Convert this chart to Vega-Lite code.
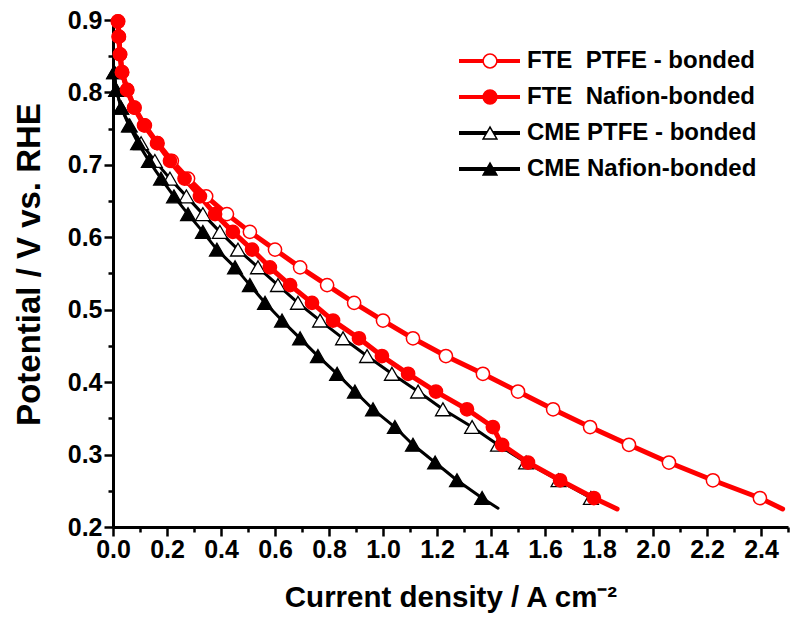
{
  "$schema": "https://vega.github.io/schema/vega-lite/v6.json",
  "width": 675,
  "height": 507,
  "autosize": "none",
  "padding": {"left": 113, "top": 20, "right": 6, "bottom": 92},
  "background": "white",
  "config": {"view": {"stroke": null}, "font": "Liberation Sans"},
  "resolve": {"axis": {"x": "independent", "y": "independent"}},
  "datasets": {
    "curves": [
      {"s": "FTE\u00a0 PTFE - bonded", "k": "a", "j": 0.018, "E": 0.898, "m": true},
      {"s": "FTE\u00a0 PTFE - bonded", "k": "a", "j": 0.021, "E": 0.877, "m": true},
      {"s": "FTE\u00a0 PTFE - bonded", "k": "a", "j": 0.026, "E": 0.8525, "m": true},
      {"s": "FTE\u00a0 PTFE - bonded", "k": "a", "j": 0.034, "E": 0.828, "m": true},
      {"s": "FTE\u00a0 PTFE - bonded", "k": "a", "j": 0.053, "E": 0.8035, "m": true},
      {"s": "FTE\u00a0 PTFE - bonded", "k": "a", "j": 0.08, "E": 0.779, "m": true},
      {"s": "FTE\u00a0 PTFE - bonded", "k": "a", "j": 0.118, "E": 0.7545, "m": true},
      {"s": "FTE\u00a0 PTFE - bonded", "k": "a", "j": 0.165, "E": 0.73, "m": true},
      {"s": "FTE\u00a0 PTFE - bonded", "k": "a", "j": 0.218, "E": 0.7055, "m": true},
      {"s": "FTE\u00a0 PTFE - bonded", "k": "a", "j": 0.278, "E": 0.681, "m": true},
      {"s": "FTE\u00a0 PTFE - bonded", "k": "a", "j": 0.345, "E": 0.6565, "m": true},
      {"s": "FTE\u00a0 PTFE - bonded", "k": "a", "j": 0.422, "E": 0.632, "m": true},
      {"s": "FTE\u00a0 PTFE - bonded", "k": "a", "j": 0.507, "E": 0.6075, "m": true},
      {"s": "FTE\u00a0 PTFE - bonded", "k": "a", "j": 0.6, "E": 0.583, "m": true},
      {"s": "FTE\u00a0 PTFE - bonded", "k": "a", "j": 0.693, "E": 0.5585, "m": true},
      {"s": "FTE\u00a0 PTFE - bonded", "k": "a", "j": 0.793, "E": 0.534, "m": true},
      {"s": "FTE\u00a0 PTFE - bonded", "k": "a", "j": 0.893, "E": 0.5095, "m": true},
      {"s": "FTE\u00a0 PTFE - bonded", "k": "a", "j": 1.0, "E": 0.485, "m": true},
      {"s": "FTE\u00a0 PTFE - bonded", "k": "a", "j": 1.111, "E": 0.4605, "m": true},
      {"s": "FTE\u00a0 PTFE - bonded", "k": "a", "j": 1.233, "E": 0.436, "m": true},
      {"s": "FTE\u00a0 PTFE - bonded", "k": "a", "j": 1.37, "E": 0.4115, "m": true},
      {"s": "FTE\u00a0 PTFE - bonded", "k": "a", "j": 1.5, "E": 0.387, "m": true},
      {"s": "FTE\u00a0 PTFE - bonded", "k": "a", "j": 1.63, "E": 0.3625, "m": true},
      {"s": "FTE\u00a0 PTFE - bonded", "k": "a", "j": 1.767, "E": 0.338, "m": true},
      {"s": "FTE\u00a0 PTFE - bonded", "k": "a", "j": 1.911, "E": 0.3135, "m": true},
      {"s": "FTE\u00a0 PTFE - bonded", "k": "a", "j": 2.059, "E": 0.289, "m": true},
      {"s": "FTE\u00a0 PTFE - bonded", "k": "a", "j": 2.222, "E": 0.2645, "m": true},
      {"s": "FTE\u00a0 PTFE - bonded", "k": "a", "j": 2.396, "E": 0.24, "m": true},
      {"s": "FTE\u00a0 PTFE - bonded", "k": "a", "j": 2.48, "E": 0.225, "m": false},

      {"s": "FTE\u00a0 Nafion-bonded", "k": "b", "j": 0.019, "E": 0.898, "m": true},
      {"s": "FTE\u00a0 Nafion-bonded", "k": "b", "j": 0.022, "E": 0.877, "m": true},
      {"s": "FTE\u00a0 Nafion-bonded", "k": "b", "j": 0.026, "E": 0.8525, "m": true},
      {"s": "FTE\u00a0 Nafion-bonded", "k": "b", "j": 0.033, "E": 0.828, "m": true},
      {"s": "FTE\u00a0 Nafion-bonded", "k": "b", "j": 0.052, "E": 0.8035, "m": true},
      {"s": "FTE\u00a0 Nafion-bonded", "k": "b", "j": 0.078, "E": 0.779, "m": true},
      {"s": "FTE\u00a0 Nafion-bonded", "k": "b", "j": 0.115, "E": 0.7545, "m": true},
      {"s": "FTE\u00a0 Nafion-bonded", "k": "b", "j": 0.163, "E": 0.73, "m": true},
      {"s": "FTE\u00a0 Nafion-bonded", "k": "b", "j": 0.211, "E": 0.7055, "m": true},
      {"s": "FTE\u00a0 Nafion-bonded", "k": "b", "j": 0.265, "E": 0.681, "m": true},
      {"s": "FTE\u00a0 Nafion-bonded", "k": "b", "j": 0.322, "E": 0.6565, "m": true},
      {"s": "FTE\u00a0 Nafion-bonded", "k": "b", "j": 0.378, "E": 0.632, "m": true},
      {"s": "FTE\u00a0 Nafion-bonded", "k": "b", "j": 0.444, "E": 0.6075, "m": true},
      {"s": "FTE\u00a0 Nafion-bonded", "k": "b", "j": 0.515, "E": 0.583, "m": true},
      {"s": "FTE\u00a0 Nafion-bonded", "k": "b", "j": 0.581, "E": 0.5585, "m": true},
      {"s": "FTE\u00a0 Nafion-bonded", "k": "b", "j": 0.656, "E": 0.534, "m": true},
      {"s": "FTE\u00a0 Nafion-bonded", "k": "b", "j": 0.737, "E": 0.5095, "m": true},
      {"s": "FTE\u00a0 Nafion-bonded", "k": "b", "j": 0.815, "E": 0.485, "m": true},
      {"s": "FTE\u00a0 Nafion-bonded", "k": "b", "j": 0.911, "E": 0.4605, "m": true},
      {"s": "FTE\u00a0 Nafion-bonded", "k": "b", "j": 0.996, "E": 0.436, "m": true},
      {"s": "FTE\u00a0 Nafion-bonded", "k": "b", "j": 1.093, "E": 0.4115, "m": true},
      {"s": "FTE\u00a0 Nafion-bonded", "k": "b", "j": 1.196, "E": 0.387, "m": true},
      {"s": "FTE\u00a0 Nafion-bonded", "k": "b", "j": 1.311, "E": 0.3625, "m": true},
      {"s": "FTE\u00a0 Nafion-bonded", "k": "b", "j": 1.407, "E": 0.338, "m": true},
      {"s": "FTE\u00a0 Nafion-bonded", "k": "b", "j": 1.441, "E": 0.3135, "m": true},
      {"s": "FTE\u00a0 Nafion-bonded", "k": "b", "j": 1.537, "E": 0.289, "m": true},
      {"s": "FTE\u00a0 Nafion-bonded", "k": "b", "j": 1.656, "E": 0.2645, "m": true},
      {"s": "FTE\u00a0 Nafion-bonded", "k": "b", "j": 1.781, "E": 0.24, "m": true},
      {"s": "FTE\u00a0 Nafion-bonded", "k": "b", "j": 1.867, "E": 0.225, "m": false},

      {"s": "CME PTFE - bonded", "k": "c", "j": 0.005, "E": 0.828, "m": true},
      {"s": "CME PTFE - bonded", "k": "c", "j": 0.012, "E": 0.8035, "m": true},
      {"s": "CME PTFE - bonded", "k": "c", "j": 0.03, "E": 0.779, "m": true},
      {"s": "CME PTFE - bonded", "k": "c", "j": 0.062, "E": 0.7545, "m": true},
      {"s": "CME PTFE - bonded", "k": "c", "j": 0.104, "E": 0.73, "m": true},
      {"s": "CME PTFE - bonded", "k": "c", "j": 0.155, "E": 0.7055, "m": true},
      {"s": "CME PTFE - bonded", "k": "c", "j": 0.211, "E": 0.681, "m": true},
      {"s": "CME PTFE - bonded", "k": "c", "j": 0.272, "E": 0.6565, "m": true},
      {"s": "CME PTFE - bonded", "k": "c", "j": 0.333, "E": 0.632, "m": true},
      {"s": "CME PTFE - bonded", "k": "c", "j": 0.396, "E": 0.6075, "m": true},
      {"s": "CME PTFE - bonded", "k": "c", "j": 0.463, "E": 0.583, "m": true},
      {"s": "CME PTFE - bonded", "k": "c", "j": 0.537, "E": 0.5585, "m": true},
      {"s": "CME PTFE - bonded", "k": "c", "j": 0.611, "E": 0.534, "m": true},
      {"s": "CME PTFE - bonded", "k": "c", "j": 0.685, "E": 0.5095, "m": true},
      {"s": "CME PTFE - bonded", "k": "c", "j": 0.767, "E": 0.485, "m": true},
      {"s": "CME PTFE - bonded", "k": "c", "j": 0.852, "E": 0.4605, "m": true},
      {"s": "CME PTFE - bonded", "k": "c", "j": 0.941, "E": 0.436, "m": true},
      {"s": "CME PTFE - bonded", "k": "c", "j": 1.033, "E": 0.4115, "m": true},
      {"s": "CME PTFE - bonded", "k": "c", "j": 1.13, "E": 0.387, "m": true},
      {"s": "CME PTFE - bonded", "k": "c", "j": 1.222, "E": 0.3625, "m": true},
      {"s": "CME PTFE - bonded", "k": "c", "j": 1.33, "E": 0.338, "m": true},
      {"s": "CME PTFE - bonded", "k": "c", "j": 1.426, "E": 0.3135, "m": true},
      {"s": "CME PTFE - bonded", "k": "c", "j": 1.53, "E": 0.289, "m": true},
      {"s": "CME PTFE - bonded", "k": "c", "j": 1.65, "E": 0.2645, "m": true},
      {"s": "CME PTFE - bonded", "k": "c", "j": 1.77, "E": 0.24, "m": true},

      {"s": "CME Nafion-bonded", "k": "d", "j": 0.004, "E": 0.828, "m": true},
      {"s": "CME Nafion-bonded", "k": "d", "j": 0.012, "E": 0.8035, "m": true},
      {"s": "CME Nafion-bonded", "k": "d", "j": 0.03, "E": 0.779, "m": true},
      {"s": "CME Nafion-bonded", "k": "d", "j": 0.059, "E": 0.7545, "m": true},
      {"s": "CME Nafion-bonded", "k": "d", "j": 0.093, "E": 0.73, "m": true},
      {"s": "CME Nafion-bonded", "k": "d", "j": 0.133, "E": 0.7055, "m": true},
      {"s": "CME Nafion-bonded", "k": "d", "j": 0.178, "E": 0.681, "m": true},
      {"s": "CME Nafion-bonded", "k": "d", "j": 0.226, "E": 0.6565, "m": true},
      {"s": "CME Nafion-bonded", "k": "d", "j": 0.278, "E": 0.632, "m": true},
      {"s": "CME Nafion-bonded", "k": "d", "j": 0.333, "E": 0.6075, "m": true},
      {"s": "CME Nafion-bonded", "k": "d", "j": 0.385, "E": 0.583, "m": true},
      {"s": "CME Nafion-bonded", "k": "d", "j": 0.452, "E": 0.5585, "m": true},
      {"s": "CME Nafion-bonded", "k": "d", "j": 0.507, "E": 0.534, "m": true},
      {"s": "CME Nafion-bonded", "k": "d", "j": 0.563, "E": 0.5095, "m": true},
      {"s": "CME Nafion-bonded", "k": "d", "j": 0.626, "E": 0.485, "m": true},
      {"s": "CME Nafion-bonded", "k": "d", "j": 0.693, "E": 0.4605, "m": true},
      {"s": "CME Nafion-bonded", "k": "d", "j": 0.759, "E": 0.436, "m": true},
      {"s": "CME Nafion-bonded", "k": "d", "j": 0.83, "E": 0.4115, "m": true},
      {"s": "CME Nafion-bonded", "k": "d", "j": 0.896, "E": 0.387, "m": true},
      {"s": "CME Nafion-bonded", "k": "d", "j": 0.963, "E": 0.3625, "m": true},
      {"s": "CME Nafion-bonded", "k": "d", "j": 1.044, "E": 0.338, "m": true},
      {"s": "CME Nafion-bonded", "k": "d", "j": 1.111, "E": 0.3135, "m": true},
      {"s": "CME Nafion-bonded", "k": "d", "j": 1.193, "E": 0.289, "m": true},
      {"s": "CME Nafion-bonded", "k": "d", "j": 1.274, "E": 0.2645, "m": true},
      {"s": "CME Nafion-bonded", "k": "d", "j": 1.367, "E": 0.24, "m": true},
      {"s": "CME Nafion-bonded", "k": "d", "j": 1.426, "E": 0.226, "m": false}
    ]
  },
  "data": {"name": "curves"},
  "layer": [
    {
      "mark": {"type": "point", "opacity": 0},
      "encoding": {
        "x": {"field": "j", "type": "quantitative", "scale": {"domain": [0, 2.5], "nice": false, "zero": false},
          "axis": {"orient": "bottom", "values": [0.1, 0.3, 0.5, 0.7, 0.9, 1.1, 1.3, 1.5, 1.7, 1.9, 2.1, 2.3, 2.5], "labels": false, "domain": false, "grid": false, "title": null, "tickSize": 5, "tickWidth": 2.5, "tickColor": "black"}},
        "y": {"field": "E", "type": "quantitative", "scale": {"domain": [0.2, 0.9], "nice": false, "zero": false},
          "axis": {"orient": "left", "values": [0.25, 0.35, 0.45, 0.55, 0.65, 0.75, 0.85], "labels": false, "domain": false, "grid": false, "title": null, "tickSize": 5, "tickWidth": 2.5, "tickColor": "black"}}
      }
    },
    {
      "transform": [{"filter": "datum.k == 'c' || datum.k == 'd'"}],
      "mark": {"type": "line", "strokeWidth": 3, "strokeJoin": "round", "strokeCap": "round"},
      "encoding": {
        "x": {"field": "j", "type": "quantitative",
          "axis": {"orient": "bottom", "values": [0, 0.2, 0.4, 0.6, 0.8, 1.0, 1.2, 1.4, 1.6, 1.8, 2.0, 2.2, 2.4], "format": ".1f", "grid": false,
            "labelFont": "Liberation Sans", "labelFontSize": 25, "labelFontWeight": "bold", "labelColor": "black", "labelPadding": 1, "labelFlush": false, "labelOverlap": false,
            "domainColor": "black", "domainWidth": 3, "tickColor": "black", "tickWidth": 2.5, "tickSize": 9,
            "title": "Current density / A cm⁻²", "titleFont": "Liberation Sans", "titleFontSize": 29.5, "titleFontWeight": "bold", "titleColor": "black", "titlePadding": 21}},
        "y": {"field": "E", "type": "quantitative",
          "axis": {"orient": "left", "values": [0.2, 0.3, 0.4, 0.5, 0.6, 0.7, 0.8, 0.9], "format": ".1f", "grid": false,
            "labelFont": "Liberation Sans", "labelFontSize": 25, "labelFontWeight": "bold", "labelColor": "black", "labelPadding": 2, "labelFlush": false, "labelOverlap": false,
            "domainColor": "black", "domainWidth": 3, "tickColor": "black", "tickWidth": 2.5, "tickSize": 9,
            "title": "Potential / V vs. RHE", "titleFont": "Liberation Sans", "titleFontSize": 33, "titleFontWeight": "bold", "titleColor": "black", "titlePadding": 21, "titleY": 244}},
        "color": {"field": "s", "type": "nominal",
          "scale": {"domain": ["FTE\u00a0 PTFE - bonded", "FTE\u00a0 Nafion-bonded", "CME PTFE - bonded", "CME Nafion-bonded"], "range": ["#ff0000", "#ff0000", "#000000", "#000000"]},
          "legend": {"orient": "none", "legendX": 344, "legendY": 31, "title": null, "padding": 0, "clipHeight": 20,
            "symbolType": "stroke", "symbolSize": 3721, "symbolStrokeWidth": 4, "symbolOpacity": 1,
            "labelFont": "Liberation Sans", "labelFontSize": 24, "labelFontWeight": "bold", "labelColor": "black", "labelOffset": 5, "rowPadding": 12, "labelLimit": 400}}
      }
    },
    {
      "transform": [{"filter": "(datum.k == 'c' || datum.k == 'd') && datum.m"}],
      "mark": {"type": "point", "opacity": 1, "size": 220, "strokeWidth": 1.3},
      "encoding": {
        "x": {"field": "j", "type": "quantitative", "axis": null},
        "y": {"field": "E", "type": "quantitative", "axis": null},
        "shape": {"field": "k", "type": "nominal", "scale": {"domain": ["a", "b", "c", "d"], "range": ["circle", "circle", "triangle-up", "triangle-up"]},
          "legend": {"orient": "none", "legendX": 365, "legendY": 31, "title": null, "padding": 0, "clipHeight": 20, "symbolSize": 190, "symbolStrokeWidth": 1.5, "symbolOpacity": 1,
            "labelFont": "Liberation Sans", "labelFontSize": 24, "labelFontWeight": "bold", "labelOpacity": 0, "rowPadding": 12}},
        "fill": {"field": "k", "type": "nominal", "scale": {"domain": ["a", "b", "c", "d"], "range": ["#ffffff", "#ff0000", "#ffffff", "#000000"]},
          "legend": {"orient": "none", "legendX": 365, "legendY": 31, "title": null, "padding": 0, "clipHeight": 20, "symbolSize": 190, "symbolStrokeWidth": 1.5, "symbolOpacity": 1,
            "labelFont": "Liberation Sans", "labelFontSize": 24, "labelFontWeight": "bold", "labelOpacity": 0, "rowPadding": 12}},
        "stroke": {"field": "k", "type": "nominal", "scale": {"domain": ["a", "b", "c", "d"], "range": ["#ff0000", "#ff0000", "#000000", "#000000"]},
          "legend": {"orient": "none", "legendX": 365, "legendY": 31, "title": null, "padding": 0, "clipHeight": 20, "symbolSize": 190, "symbolStrokeWidth": 1.5, "symbolOpacity": 1,
            "labelFont": "Liberation Sans", "labelFontSize": 24, "labelFontWeight": "bold", "labelOpacity": 0, "rowPadding": 12}}
      }
    },
    {
      "transform": [{"filter": "datum.k == 'a' || datum.k == 'b'"}],
      "mark": {"type": "line", "strokeWidth": 5, "strokeJoin": "round", "strokeCap": "round"},
      "encoding": {
        "x": {"field": "j", "type": "quantitative", "axis": null},
        "y": {"field": "E", "type": "quantitative", "axis": null},
        "color": {"field": "s", "type": "nominal"}
      }
    },
    {
      "transform": [{"filter": "(datum.k == 'a' || datum.k == 'b') && datum.m"}],
      "mark": {"type": "point", "opacity": 1, "size": 175, "strokeWidth": 1.5},
      "encoding": {
        "x": {"field": "j", "type": "quantitative", "axis": null},
        "y": {"field": "E", "type": "quantitative", "axis": null},
        "shape": {"field": "k", "type": "nominal"},
        "fill": {"field": "k", "type": "nominal"},
        "stroke": {"field": "k", "type": "nominal"}
      }
    }
  ]
}
